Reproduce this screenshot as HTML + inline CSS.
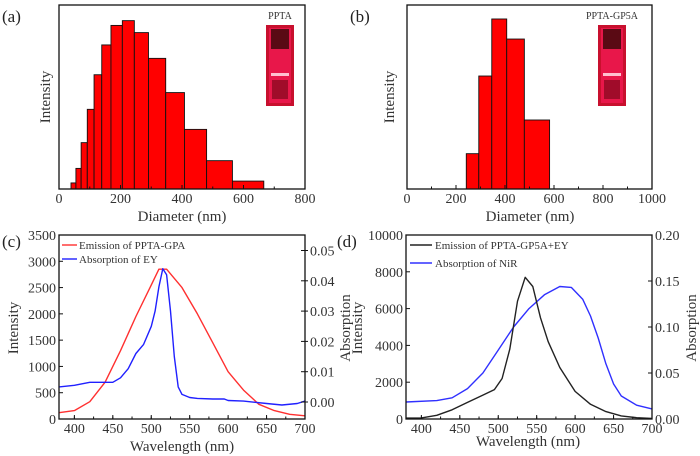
<!DOCTYPE html>
<html><head><meta charset="utf-8">
<style>
html,body{margin:0;padding:0;background:#fff;}
svg{display:block;font-family:"Liberation Serif",serif;}
</style></head>
<body>
<svg id="fig" width="700" height="456" viewBox="0 0 700 456" xmlns="http://www.w3.org/2000/svg"></svg>
<script>
// ---- Data ----
const aEdges = [39,55,72,92,114,139,169,206,245,291,347,408,480,564,666];
const aHeights = [3.3,11.2,25.2,43.3,62.1,78.3,88.9,91.5,85,71,52.4,32.4,15.4,4.3];
const bEdges = [242,293,346,407,479,582];
const bHeights = [19.2,61.4,92.4,81.5,37.5];
const cWl = [380,400,420,440,460,480,500,510,520,540,560,580,600,620,640,660,680,700];
const cEmission = [120,160,330,700,1300,1950,2550,2850,2850,2500,2000,1450,900,550,280,160,90,60];
const cAbsWl = [380,400,420,440,450,460,470,480,490,500,505,510,515,520,525,530,535,540,550,560,580,595,600,620,650,670,690,700];
const cAbs = [0.005,0.0055,0.0065,0.0065,0.0065,0.008,0.011,0.016,0.019,0.025,0.03,0.038,0.044,0.042,0.03,0.015,0.005,0.0025,0.0015,0.0012,0.001,0.001,0.0005,0.0003,-0.0005,-0.001,-0.0005,0.0003];
const dWl = [380,400,420,440,460,480,495,505,515,525,535,545,555,565,580,600,620,640,660,680,700];
const dEmission = [50,60,200,500,900,1300,1600,2200,3800,6400,7700,7200,5500,4200,2800,1500,800,400,170,70,30];
const dAbsWl = [380,420,440,460,480,500,520,540,560,580,595,610,620,630,640,650,660,680,700];
const dAbs = [0.0185,0.02,0.023,0.033,0.05,0.075,0.1,0.12,0.135,0.144,0.143,0.13,0.112,0.088,0.06,0.038,0.025,0.015,0.011];
const aTicks = [0,200,400,600,800];
const bTicks = [0,200,400,600,800,1000];
const wlTicks = [400,450,500,550,600,650,700];
const cLeftTicks = [0,500,1000,1500,2000,2500,3000,3500];
const cRightTicks = [0,0.01,0.02,0.03,0.04,0.05];
const dLeftTicks = [0,2000,4000,6000,8000,10000];
const dRightTicks = [0,0.05,0.10,0.15,0.20];

const svg = document.getElementById('fig');
const NS = 'http://www.w3.org/2000/svg';
function el(tag, attrs, parent){
  const e = document.createElementNS(NS, tag);
  for (const k in attrs) e.setAttribute(k, attrs[k]);
  (parent||svg).appendChild(e); return e;
}
function txt(x,y,s,size,anchor,parent,extra){
  const t = el('text',{x:x,y:y,'font-size':size,'text-anchor':anchor||'middle',fill:'#333'},parent);
  if(extra) for(const k in extra) t.setAttribute(k,extra[k]);
  t.textContent = s; return t;
}
function lin(d0,d1,p0,p1){return v=>p0+(v-d0)/(d1-d0)*(p1-p0);}

function frame(g,x0,x1,y0,y1){
  el('rect',{x:x0,y:y0,width:x1-x0,height:y1-y0,fill:'none',stroke:'#111','stroke-width':1.3},g);
}
function xTicks(g,xs,ticks,y1,minorStep,dmin,dmax){
  ticks.forEach(v=>{
    el('line',{x1:xs(v),x2:xs(v),y1:y1,y2:y1-4,stroke:'#111'},g);
    txt(xs(v),y1+14,String(v),14,'middle',g);
  });
  for(let v=dmin; v<=dmax; v+=minorStep){
    el('line',{x1:xs(v),x2:xs(v),y1:y1,y2:y1-2.5,stroke:'#111'},g);
  }
}
function poly(g,xs,ys,X,Y,color,name){
  let d='';
  X.forEach((v,i)=>{d+=(i?'L':'M')+xs(v).toFixed(1)+','+ys(Y[i]).toFixed(1);});
  const p = el('path',{d:d,fill:'none',stroke:color,'stroke-width':1.4,'stroke-linejoin':'round'},g);
  
  
  return p;
}
function inset(g,x,y,w,h){
  el('rect',{x:x,y:y,width:w,height:h,fill:'#c8102e'},g);
  el('rect',{x:x+3,y:y+3,width:w-6,height:h-6,fill:'#e8174a'},g);
  el('rect',{x:x+5,y:y+4,width:w-10,height:20,fill:'#5a0a14'},g);
  el('rect',{x:x+5,y:y+48,width:w-10,height:3,fill:'#ffc0d0'},g);
  el('rect',{x:x+6,y:y+55,width:w-12,height:h-62,fill:'#a00c2a'},g);
}

// ---- Panel a ----
(function(){
  const g = el('g',{});  
  const x0=59,x1=305,y0=5,y1=189;
  const xs=lin(0,800,x0,x1), ys=lin(0,100,y1,y0);
  aHeights.forEach((h,i)=>{
    const r=el('rect',{x:xs(aEdges[i]),y:ys(h),width:xs(aEdges[i+1])-xs(aEdges[i]),height:y1-ys(h),fill:'#ff0000',stroke:'#111','stroke-width':0.9},g);
     
  });
  frame(g,x0,x1,y0,y1);
  xTicks(g,xs,aTicks,y1,100,0,800);
  txt(182,221,'Diameter (nm)',15,'middle',g);
  txt(50,97,'Intensity',15,'middle',g,{transform:'rotate(-90 50 97)'});
  txt(2,22,'(a)',17,'start',g,{fill:'#222'});
  txt(280,19,'PPTA',10,'middle',g);
  inset(g,266,25,28,81);
})();

// ---- Panel b ----
(function(){
  const g = el('g',{});  
  const x0=407,x1=652,y0=5,y1=189;
  const xs=lin(0,1000,x0,x1), ys=lin(0,100,y1,y0);
  bHeights.forEach((h,i)=>{
    const r=el('rect',{x:xs(bEdges[i]),y:ys(h),width:xs(bEdges[i+1])-xs(bEdges[i]),height:y1-ys(h),fill:'#ff0000',stroke:'#111','stroke-width':0.9},g);
     
  });
  frame(g,x0,x1,y0,y1);
  xTicks(g,xs,bTicks,y1,100,0,1000);
  txt(530,221,'Diameter (nm)',15,'middle',g);
  txt(394,97,'Intensity',15,'middle',g,{transform:'rotate(-90 394 97)'});
  txt(350,22,'(b)',17,'start',g,{fill:'#222'});
  txt(612,19,'PPTA-GP5A',10,'middle',g);
  inset(g,598,25,28,81);
})();

// ---- Panel c ----
(function(){
  const g = el('g',{});  
  const x0=59,x1=305,y0=235,y1=419;
  const xs=lin(380,700,x0,x1), ysL=lin(0,3500,y1,y0), ysR=lin(0,0.01,402,371.7);
  poly(g,xs,ysL,cWl,cEmission,'#ff3030','emission-ppta-gpa-line');
  poly(g,xs,ysR,cAbsWl,cAbs,'#2020ff','absorption-ey-line');
  frame(g,x0,x1,y0,y1);
  xTicks(g,xs,wlTicks,y1,25,400,700);
  cLeftTicks.forEach(v=>{el('line',{x1:x0,x2:x0+4,y1:ysL(v),y2:ysL(v),stroke:'#111'},g);txt(x0-3,ysL(v)+5,String(v),14,'end',g);});
  cRightTicks.forEach(v=>{el('line',{x1:x1,x2:x1-4,y1:ysR(v),y2:ysR(v),stroke:'#111'},g);el('line',{x1:x1,x2:x1+3,y1:ysR(v),y2:ysR(v),stroke:'#111'},g);txt(x1+5,ysR(v)+5,v.toFixed(2),14,'start',g);});
  txt(182,451,'Wavelength (nm)',15,'middle',g);
  txt(18,328,'Intensity',15,'middle',g,{transform:'rotate(-90 18 328)'});
  txt(350,328,'Absorption',15,'middle',g,{transform:'rotate(-90 350 328)'});
  txt(2,247,'(c)',17,'start',g,{fill:'#222'});
  const l1=el('g',{},g);  
  el('line',{x1:62,x2:77,y1:245,y2:245,stroke:'#ff3030','stroke-width':1.4},l1);
  txt(79,249,'Emission of PPTA-GPA',11,'start',l1);
  const l2=el('g',{},g);  
  el('line',{x1:62,x2:77,y1:259,y2:259,stroke:'#2020ff','stroke-width':1.4},l2);
  txt(79,263,'Absorption of EY',11,'start',l2);
})();

// ---- Panel d ----
(function(){
  const g = el('g',{});  
  const x0=406,x1=652,y0=235,y1=419;
  const xs=lin(380,700,x0,x1), ysL=lin(0,10000,y1,y0), ysR=lin(0,0.2,y1,y0);
  poly(g,xs,ysR,dAbsWl,dAbs,'#3030ff','absorption-nir-line');
  poly(g,xs,ysL,dWl,dEmission,'#222','emission-ppta-gp5a-ey-line');
  frame(g,x0,x1,y0,y1);
  xTicks(g,xs,wlTicks,y1,25,400,700);
  dLeftTicks.forEach(v=>{el('line',{x1:x0,x2:x0+4,y1:ysL(v),y2:ysL(v),stroke:'#111'},g);txt(x0-3,ysL(v)+5,String(v),14,'end',g);});
  dRightTicks.forEach(v=>{el('line',{x1:x1,x2:x1-4,y1:ysR(v),y2:ysR(v),stroke:'#111'},g);txt(x1+3,ysR(v)+5,v.toFixed(2),14,'start',g);});
  txt(528,446,'Wavelength (nm)',15,'middle',g);
  txt(362,328,'Intensity',15,'middle',g,{transform:'rotate(-90 362 328)'});
  txt(696,328,'Absorption',15,'middle',g,{transform:'rotate(-90 696 328)'});
  txt(337,247,'(d)',17,'start',g,{fill:'#222'});
  const l1=el('g',{},g);  
  el('line',{x1:410,x2:432,y1:245,y2:245,stroke:'#222','stroke-width':1.4},l1);
  txt(435,249,'Emission of PPTA-GP5A+EY',11,'start',l1);
  const l2=el('g',{},g);  
  el('line',{x1:410,x2:432,y1:263,y2:263,stroke:'#3030ff','stroke-width':1.4},l2);
  txt(435,267,'Absorption of NiR',11,'start',l2);
})();
</script>
</body></html>
